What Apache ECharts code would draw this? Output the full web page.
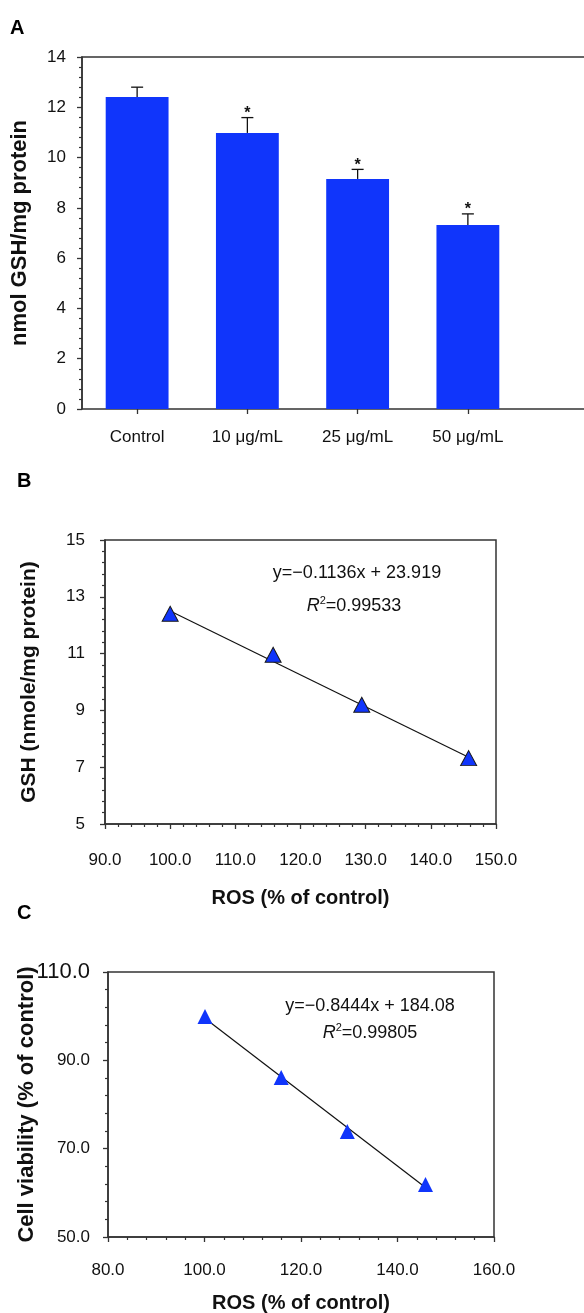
<!DOCTYPE html>
<html><head><meta charset="utf-8">
<script src="https://cdn.jsdelivr.net/npm/echarts@6/dist/echarts.min.js"></script>
<style>html,body{margin:0;padding:0;background:#fff}#c{width:584px;height:1313px}</style>
</head><body><div id="c"></div>
<script>
// ---- Panel A data ----
const categories = ['Control', '10 \u03bcg/mL', '25 \u03bcg/mL', '50 \u03bcg/mL'];
const gshMeans = [12.41, 10.98, 9.15, 7.32];
const gshErrors = [0.39, 0.61, 0.38, 0.44];
const significant = [0, 1, 1, 1];
const yTicksA = [0, 14, 2];           // min, max, interval
// ---- Panel B data ----
const rosB = [100.0, 115.8, 129.4, 145.8];
const gshB = [12.40, 10.96, 9.20, 7.32];
const fitLineB = [[100.0, 12.50], [145.8, 7.35]];
const xTicksB = [90, 150, 10];
const yTicksB = [5, 15, 2];
// ---- Panel C data ----
const rosC = [100.1, 115.9, 129.6, 145.8];
const viabilityC = [99.9, 86.1, 73.9, 61.9];
const fitLineC = [[100.0, 99.6], [145.8, 61.2]];
const xTicksC = [80, 160, 20];
const yTicksC = [50, 110, 20];

const FONT = '"Liberation Sans", Arial, sans-serif';
const BLUE = '#1035fb';
const AX = '#333';
const lbl = (m) => ({color: '#111', fontSize: 17, fontFamily: FONT, margin: m});
const tick = {show: true, inside: false, length: 5, lineStyle: {color: AX, width: 1.3}};
const minor = {show: true, splitNumber: 5, length: 3, lineStyle: {color: AX, width: 1.2}};
const line = {show: true, lineStyle: {color: AX, width: 1.5}};
const nameStyle = (s) => ({color: '#111', fontSize: s, fontWeight: 'bold', fontFamily: FONT});
const fix1 = v => v.toFixed(1);

const chart = echarts.init(document.getElementById('c'), null, {renderer: 'canvas'});
chart.setOption({
  animation: false,
  backgroundColor: '#fff',
  grid: [
    {left: 82, top: 57, width: 441, height: 352, outerBoundsMode: 'none', containLabel: false},
    {left: 82, top: 57, right: -12, height: 352, show: true, borderColor: AX, borderWidth: 1.5, outerBoundsMode: 'none'},
    {left: 105, top: 540, width: 391, height: 284, show: true, borderColor: AX, borderWidth: 1.5, outerBoundsMode: 'none'},
    {left: 108, top: 972, width: 386, height: 265, show: true, borderColor: AX, borderWidth: 1.5, outerBoundsMode: 'none'}
  ],
  xAxis: [
    {gridIndex: 0, type: 'category', data: categories, axisLine: {show: false},
     axisTick: Object.assign({}, tick, {alignWithLabel: true}), axisLabel: lbl(20)},
    {gridIndex: 1, type: 'value', show: false, min: 0, max: 1},
    {gridIndex: 2, type: 'value', min: xTicksB[0], max: xTicksB[1], interval: xTicksB[2],
     axisLine: line, axisTick: tick, minorTick: minor, splitLine: {show: false},
     axisLabel: Object.assign(lbl(28), {formatter: fix1, showMinLabel: true, showMaxLabel: true}),
     name: 'ROS (% of control)', nameLocation: 'middle', nameGap: 64, nameMoveOverlap: false, nameTextStyle: nameStyle(20)},
    {gridIndex: 3, type: 'value', min: xTicksC[0], max: xTicksC[1], interval: xTicksC[2],
     axisLine: line, axisTick: tick, minorTick: minor, splitLine: {show: false},
     axisLabel: Object.assign(lbl(25), {formatter: fix1, showMinLabel: true, showMaxLabel: true}),
     name: 'ROS (% of control)', nameLocation: 'middle', nameGap: 56, nameMoveOverlap: false, nameTextStyle: nameStyle(20)}
  ],
  yAxis: [
    {gridIndex: 0, type: 'value', min: yTicksA[0], max: yTicksA[1], interval: yTicksA[2],
     axisLine: line, axisTick: tick, minorTick: minor, splitLine: {show: false}, axisLabel: lbl(16),
     name: 'nmol GSH/mg protein', nameLocation: 'middle', nameGap: 51, nameMoveOverlap: false, nameTextStyle: nameStyle(22)},
    {gridIndex: 1, type: 'value', show: false, min: 0, max: 1},
    {gridIndex: 2, type: 'value', min: yTicksB[0], max: yTicksB[1], interval: yTicksB[2],
     axisLine: line, axisTick: tick, minorTick: minor, splitLine: {show: false}, axisLabel: lbl(20),
     name: 'GSH (nmole/mg protein)', nameLocation: 'middle', nameGap: 65, nameMoveOverlap: false, nameTextStyle: nameStyle(21)},
    {gridIndex: 3, type: 'value', min: yTicksC[0], max: yTicksC[1], interval: yTicksC[2],
     axisLine: line, axisTick: tick, minorTick: minor, splitLine: {show: false},
     axisLabel: Object.assign(lbl(18), {
       formatter: v => v === yTicksC[1] ? '{big|' + v.toFixed(1) + '}' : v.toFixed(1),
       rich: {big: {fontSize: 22, fontFamily: FONT, color: '#111'}}}),
     name: 'Cell viability (% of control)', nameLocation: 'middle', nameGap: 70, nameMoveOverlap: false, nameTextStyle: nameStyle(22)}
  ],
  series: [
    {type: 'bar', xAxisIndex: 0, yAxisIndex: 0, data: gshMeans, barWidth: '57%',
     itemStyle: {color: BLUE}},
    {type: 'custom', xAxisIndex: 0, yAxisIndex: 0, z: 5,
     data: gshMeans.map((m, i) => [i, m, gshErrors[i], significant[i]]),
     renderItem: function (params, api) {
       const i = api.value(0), m = api.value(1), e = api.value(2), s = api.value(3);
       const p0 = api.coord([i, m]);
       const p1 = api.coord([i, m + e]);
       const st = {stroke: '#111', lineWidth: 1.3};
       const ch = [
         {type: 'line', shape: {x1: p0[0], y1: p0[1], x2: p1[0], y2: p1[1]}, style: st},
         {type: 'line', shape: {x1: p1[0] - 6, y1: p1[1], x2: p1[0] + 6, y2: p1[1]}, style: st}
       ];
       if (s) ch.push({type: 'text', style: {text: '*', x: p1[0], y: p1[1] + 4, align: 'center',
         verticalAlign: 'bottom', fill: '#111', font: 'bold 16px ' + FONT}});
       return {type: 'group', children: ch};
     }},
    {type: 'line', xAxisIndex: 2, yAxisIndex: 2, data: fitLineB, symbol: 'none', z: 2,
     lineStyle: {color: '#111', width: 1.2}},
    {type: 'scatter', xAxisIndex: 2, yAxisIndex: 2, z: 4, symbol: 'triangle', symbolSize: [16, 15],
     data: rosB.map((x, i) => [x, gshB[i]]),
     itemStyle: {color: BLUE, borderColor: '#1a1a1a', borderWidth: 1, opacity: 1}},
    {type: 'line', xAxisIndex: 3, yAxisIndex: 3, data: fitLineC, symbol: 'none', z: 2,
     lineStyle: {color: '#111', width: 1.2}},
    {type: 'scatter', xAxisIndex: 3, yAxisIndex: 3, z: 4, symbol: 'triangle', symbolSize: [15, 15],
     data: rosC.map((x, i) => [x, viabilityC[i]]),
     itemStyle: {color: BLUE, opacity: 1}}
  ],
  graphic: [
    {type: 'text', left: 10, top: 18, style: {text: 'A', font: 'bold 20px ' + FONT, fill: '#000'}},
    {type: 'text', left: 17, top: 471, style: {text: 'B', font: 'bold 20px ' + FONT, fill: '#000'}},
    {type: 'text', left: 17, top: 903, style: {text: 'C', font: 'bold 20px ' + FONT, fill: '#000'}},
    {type: 'text', x: 357, y: 573, style: {text: 'y=\u22120.1136x + 23.919', align: 'center', verticalAlign: 'middle',
      font: '18px ' + FONT, fill: '#111'}},
    {type: 'text', x: 354, y: 606, style: {text: '{i|R}{s|2}{n|=0.99533}', align: 'center', verticalAlign: 'middle',
      rich: {i: {fontStyle: 'italic', fontSize: 18, fontFamily: FONT, lineHeight: 22, fill: '#111'},
             s: {fontSize: 11, fontFamily: FONT, lineHeight: 12, verticalAlign: 'top', fill: '#111'},
             n: {fontSize: 18, fontFamily: FONT, lineHeight: 22, fill: '#111'}}}},
    {type: 'text', x: 370, y: 1006, style: {text: 'y=\u22120.8444x + 184.08', align: 'center', verticalAlign: 'middle',
      font: '18px ' + FONT, fill: '#111'}},
    {type: 'text', x: 370, y: 1033, style: {text: '{i|R}{s|2}{n|=0.99805}', align: 'center', verticalAlign: 'middle',
      rich: {i: {fontStyle: 'italic', fontSize: 18, fontFamily: FONT, lineHeight: 22, fill: '#111'},
             s: {fontSize: 11, fontFamily: FONT, lineHeight: 12, verticalAlign: 'top', fill: '#111'},
             n: {fontSize: 18, fontFamily: FONT, lineHeight: 22, fill: '#111'}}}}
  ]
});
</script></body></html>
